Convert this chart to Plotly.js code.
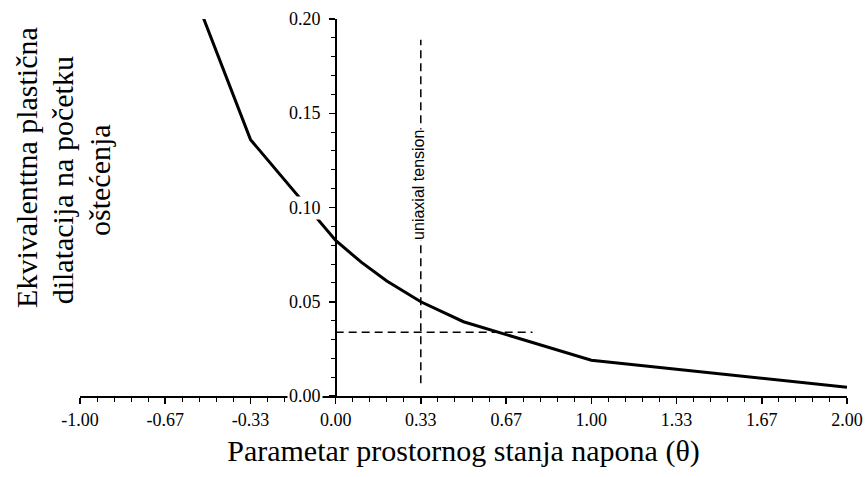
<!DOCTYPE html>
<html>
<head>
<meta charset="utf-8">
<script src="https://cdn.plot.ly/plotly-3.0.1.min.js"></script>
<style>html,body{margin:0;padding:0;background:#fff;}#chart{width:866px;height:477px;}</style>
</head>
<body>
<div id="chart"></div>
<script>
// Curve: equivalent plastic strain at damage initiation vs stress triaxiality
const theta = [-0.667, -0.333, 0, 0.1, 0.2, 0.333, 0.5, 1.0, 2.0];
const strain = [0.253, 0.136, 0.0825, 0.071, 0.061, 0.050, 0.0394, 0.019, 0.0046];
// Reference lines (uniaxial tension)
const vLineTheta = [0.333, 0.333];
const vLineStrain = [0.0068, 0.189];
const hLineTheta = [0, 0.77];
const hLineStrain = [0.0338, 0.0338];
const refLabel = 'uniaxial tension';
const refLabelPos = {x: 0.326, y: 0.112};
// Ticks
const xTickVals = [-1, -0.667, -0.333, 0, 0.333, 0.667, 1, 1.333, 1.667, 2];
const xTickText = ['-1.00', '-0.67', '-0.33', '0.00', '0.33', '0.67', '1.00', '1.33', '1.67', '2.00'];
const yTickVals = [0, 0.05, 0.10, 0.15, 0.20];
const yTickText = ['0.00', '0.05', '0.10', '0.15', '0.20'];
const xTitle = 'Parametar prostornog stanja napona (θ)';
const yTitleLines = ['Ekvivalenttna plastična', 'dilatacija na početku', 'oštećenja'];
const yTitlePos = [{x: -0.0691, y: 0.605}, {x: -0.0235, y: 0.572}, {x: 0.0261, y: 0.573}];

const serif = 'Liberation Serif, Times New Roman, serif';

const traces = [
  {x: theta, y: strain, mode: 'lines', line: {color: '#000', width: 3}, showlegend: false, hoverinfo: 'skip'},
  {x: vLineTheta, y: vLineStrain, mode: 'lines', line: {color: '#000', width: 1.5, dash: '8px,5px'}, showlegend: false, hoverinfo: 'skip'},
  {x: hLineTheta, y: hLineStrain, mode: 'lines', line: {color: '#000', width: 1.5, dash: '8px,5px'}, showlegend: false, hoverinfo: 'skip'}
];

const annotations = yTickVals.map((v, i) => ({
  xref: 'x', yref: 'y', x: 0, y: v, text: yTickText[i], showarrow: false,
  xanchor: 'right', yanchor: 'middle', xshift: -13, bgcolor: '#fff', borderpad: 1,
  font: {family: serif, size: 18, color: '#000'}
}));
annotations.push({
  xref: 'x', yref: 'y', x: refLabelPos.x, y: refLabelPos.y, text: refLabel, showarrow: false,
  textangle: -90, xanchor: 'center', yanchor: 'middle', bgcolor: '#fff', borderpad: 0,
  font: {family: 'Liberation Sans, Arial, sans-serif', size: 16, color: '#000'}
});
yTitleLines.forEach((t, i) => annotations.push({
  xref: 'paper', yref: 'paper', x: yTitlePos[i].x, y: yTitlePos[i].y, text: t, showarrow: false,
  textangle: -90, xanchor: 'center', yanchor: 'middle',
  font: {family: serif, size: 30, color: '#000'}
}));

const layout = {
  width: 866, height: 477,
  margin: {l: 80, r: 19, t: 19, b: 81},
  paper_bgcolor: '#fff', plot_bgcolor: '#fff',
  font: {family: serif, color: '#000'},
  showlegend: false,
  xaxis: {
    range: [-1, 2], domain: [0, 1], showgrid: false, zeroline: false,
    showline: true, linecolor: '#000', linewidth: 2,
    tickmode: 'array', tickvals: xTickVals, ticktext: xTickText,
    ticks: 'outside', ticklen: 6, tickwidth: 1.5, tickcolor: '#000',
    minor: {tickmode: 'linear', tick0: -1, dtick: 1/15, ticks: 'outside', ticklen: 4, tickwidth: 1, tickcolor: '#000', showgrid: false},
    tickfont: {family: serif, size: 18, color: '#000'},
    title: {text: xTitle, font: {family: serif, size: 30, color: '#000'}, standoff: 11},
    automargin: false, fixedrange: true
  },
  yaxis: {
    range: [0, 0.2], anchor: 'free', position: 1/3, showgrid: false, zeroline: false,
    showline: true, linecolor: '#000', linewidth: 2,
    tickmode: 'array', tickvals: yTickVals, showticklabels: false,
    ticks: 'outside', ticklen: 6, tickwidth: 1.5, tickcolor: '#000',
    minor: {tickmode: 'linear', tick0: 0, dtick: 0.01, ticks: 'outside', ticklen: 4, tickwidth: 1, tickcolor: '#000', showgrid: false},
    automargin: false, fixedrange: true
  },
  annotations: annotations
};

Plotly.newPlot('chart', traces, layout, {staticPlot: true, displayModeBar: false});
</script>
</body>
</html>
